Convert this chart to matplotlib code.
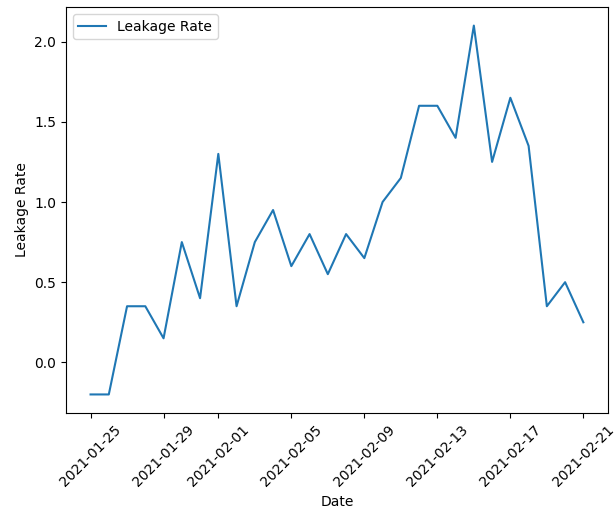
import numpy as np
import pandas as pd
import matplotlib
matplotlib.use("Agg")
import matplotlib.pyplot as plt

# daily leakage readings
dates = pd.date_range("2021-01-25", "2021-02-21", freq="D")
leakage_rate = [-0.2, -0.2, 0.35, 0.35, 0.15, 0.75, 0.4, 1.3, 0.35, 0.75,
                0.95, 0.6, 0.8, 0.55, 0.8, 0.65, 1.0, 1.15, 1.6, 1.6,
                1.4, 2.1, 1.25, 1.65, 1.35, 0.35, 0.5, 0.25]

fig, ax = plt.subplots(figsize=(6.16, 5.11), dpi=100)
fig.subplots_adjust(left=0.107, right=0.987, top=0.986, bottom=0.192)

ax.plot(dates, leakage_rate, label="Leakage Rate")
ax.set_xlabel("Date")
ax.set_ylabel("Leakage Rate")
ax.legend(loc="upper left")
plt.xticks(rotation=45)

fig.savefig("out.png")
